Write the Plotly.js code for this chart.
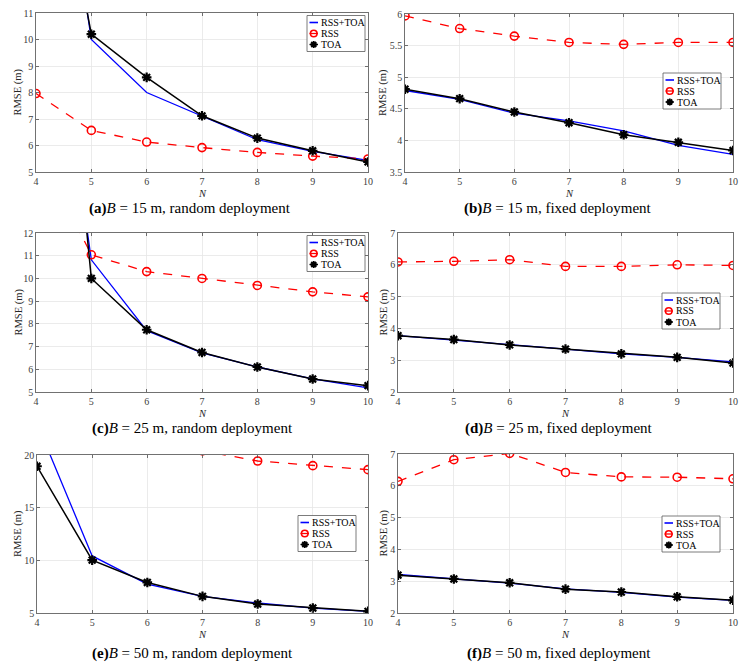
<!DOCTYPE html>
<html>
<head>
<meta charset="utf-8">
<script src="https://cdn.plot.ly/plotly-3.0.1.min.js"></script>
<style>html,body{margin:0;padding:0;background:#fff;}#chart{width:751px;height:668px;}</style>
</head>
<body>
<div id="chart"></div>
<script>
// ---- data ----
const N = [4, 5, 6, 7, 8, 9, 10];
const seriesNames = ["RSS+TOA", "RSS", "TOA"];

// (a) B = 15 m, random deployment
const a_rsstoa = [23.9, 10.0, 8.0, 7.12, 6.22, 5.78, 5.44];
const a_rss    = [7.96, 6.57, 6.13, 5.92, 5.74, 5.60, 5.49];
const a_toa    = [21.3, 10.2, 8.57, 7.12, 6.28, 5.80, 5.38];
// (b) B = 15 m, fixed deployment
const b_rsstoa = [4.79, 4.65, 4.43, 4.31, 4.15, 3.92, 3.78];
const b_rss    = [5.97, 5.77, 5.65, 5.55, 5.52, 5.55, 5.55];
const b_toa    = [4.81, 4.66, 4.45, 4.28, 4.09, 3.97, 3.84];
// (c) B = 25 m, random deployment
const c_rsstoa = [28.0, 10.82, 7.70, 6.72, 6.10, 5.58, 5.18];
const c_rss    = [15.9, 11.04, 10.3, 10.0, 9.69, 9.41, 9.19];
const c_toa    = [35.0, 10.0, 7.74, 6.74, 6.10, 5.57, 5.28];
// (d) B = 25 m, fixed deployment
const d_rsstoa = [3.77, 3.64, 3.49, 3.35, 3.20, 3.09, 2.95];
const d_rss    = [6.09, 6.11, 6.16, 5.95, 5.95, 6.00, 5.98];
const d_toa    = [3.77, 3.65, 3.48, 3.35, 3.20, 3.09, 2.91];
// (e) B = 50 m, random deployment
const e_rsstoa = [23.0, 10.42, 7.75, 6.58, 5.95, 5.47, 5.15];
const e_rss    = [30.0, 24.0, 21.5, 20.4, 19.43, 18.99, 18.61];
const e_toa    = [18.93, 10.02, 7.90, 6.58, 5.85, 5.47, 5.16];
// (f) B = 50 m, fixed deployment
const f_rsstoa = [3.21, 3.07, 2.94, 2.76, 2.65, 2.50, 2.40];
const f_rss    = [6.14, 6.82, 7.02, 6.42, 6.28, 6.27, 6.22];
const f_toa    = [3.19, 3.07, 2.95, 2.75, 2.66, 2.51, 2.40];

const xTicks = [4, 5, 6, 7, 8, 9, 10];
const captions = [
  "<b>(a)</b><i>B</i> = 15 m, random deployment",
  "<b>(b)</b><i>B</i> = 15 m, fixed deployment",
  "<b>(c)</b><i>B</i> = 25 m, random deployment",
  "<b>(d)</b><i>B</i> = 25 m, fixed deployment",
  "<b>(e)</b><i>B</i> = 50 m, random deployment",
  "<b>(f)</b><i>B</i> = 50 m, fixed deployment"
];
const yLabel = "RMSE (m)";
const xLabel = "<i>N</i>";
const yRanges = [[5, 11], [3.5, 6], [5, 12], [2, 7], [5, 20], [2, 7]];
const yDticks = [1, 0.5, 1, 1, 5, 1];

// ---- layout geometry (pixels) ----
const W = 751, H = 668;
const boxes = [
  {l: 36, r: 368, t: 13, b: 172},
  {l: 405, r: 733, t: 14, b: 172},
  {l: 36, r: 368, t: 233, b: 392},
  {l: 398, r: 733, t: 233, b: 392},
  {l: 37, r: 368, t: 455, b: 613},
  {l: 398, r: 733, t: 454, b: 613}
];
// legend box: left edge and first-row centre (pixels)
const legendPos = [
  {l: 307, row: 22.5}, {l: 663, row: 80}, {l: 307, row: 242.5},
  {l: 662, row: 300}, {l: 298, row: 522.5}, {l: 662, row: 523}
];
const captionPos = [
  {x: 190, y: 208}, {x: 558, y: 208}, {x: 192, y: 428},
  {x: 559, y: 428}, {x: 192, y: 653}, {x: 559, y: 653}
];

const allData = [
  [a_rsstoa, a_rss, a_toa], [b_rsstoa, b_rss, b_toa], [c_rsstoa, c_rss, c_toa],
  [d_rsstoa, d_rss, d_toa], [e_rsstoa, e_rss, e_toa], [f_rsstoa, f_rss, f_toa]
];

const colors = ["#0000ff", "#ff0000", "#000000"];
const serif = "Liberation Serif, Times New Roman, serif";
const traces = [];
const layout = {
  width: W, height: H,
  margin: {l: 0, r: 0, t: 0, b: 0},
  paper_bgcolor: "#ffffff", plot_bgcolor: "#ffffff",
  showlegend: false,
  annotations: [], shapes: [],
  font: {family: serif, color: "#000"}
};
const px = v => v / W, py = v => 1 - v / H;

allData.forEach((set, i) => {
  const k = i + 1;
  const xa = "x" + (k === 1 ? "" : k), ya = "y" + (k === 1 ? "" : k);
  const styles = [
    {mode: "lines", line: {color: colors[0], width: 1.3}},
    {mode: "lines+markers", line: {color: colors[1], width: 1.3, dash: "dash"},
     marker: {symbol: "circle-open", size: 8, color: colors[1], line: {width: 1.6, color: colors[1]}}},
    {mode: "lines+markers", line: {color: colors[2], width: 1.5},
     marker: {symbol: "asterisk-open", size: 8, color: colors[2], line: {width: 2.2, color: colors[2]}}}
  ];
  set.forEach((ys, j) => {
    traces.push(Object.assign({
      type: "scatter", x: N, y: ys, name: seriesNames[j],
      xaxis: xa, yaxis: ya, showlegend: false, cliponaxis: true
    }, styles[j]));
  });
  const bx = boxes[i];
  const axCommon = {
    showline: true, linecolor: "#4d4d4d", linewidth: 0.8, mirror: "ticks",
    showgrid: true, gridcolor: "#e6e6e6", gridwidth: 0.8,
    ticks: "inside", ticklen: 3, tickcolor: "#4d4d4d", tickwidth: 0.8,
    zeroline: false, fixedrange: true,
    tickfont: {family: serif, size: 10, color: "#404040"}
  };
  layout["xaxis" + (k === 1 ? "" : k)] = Object.assign({}, axCommon, {
    domain: [px(bx.l), px(bx.r)], anchor: ya, range: [4, 10],
    tickmode: "array", tickvals: xTicks, ticktext: xTicks.map(String)
  });
  layout["yaxis" + (k === 1 ? "" : k)] = Object.assign({}, axCommon, {
    domain: [py(bx.b), py(bx.t)], anchor: xa, range: yRanges[i],
    tick0: yRanges[i][0], dtick: yDticks[i]
  });

  // ---- legend (drawn as shapes + text) ----
  const lp = legendPos[i];
  const rowGap = 11;
  const L = lp.l, T = lp.row - 7, R = lp.l + 58, B = lp.row + 2 * rowGap + 7;
  layout.shapes.push({type: "rect", xref: "paper", yref: "paper",
    x0: px(L), x1: px(R), y0: py(B), y1: py(T),
    fillcolor: "#ffffff", line: {color: "#5a5a5a", width: 0.8}, layer: "above"});
  const sx0 = L + 2.5, sx1 = L + 11, cx = (sx0 + sx1) / 2;
  seriesNames.forEach((nm, j) => {
    const yy = lp.row + j * rowGap;
    layout.shapes.push({type: "line", xref: "paper", yref: "paper",
      x0: px(sx0), x1: px(sx1), y0: py(yy), y1: py(yy),
      line: {color: colors[j], width: j === 0 ? 1.6 : 1.3}, layer: "above"});
    if (j === 1) {
      const r = 3.3;
      layout.shapes.push({type: "circle", xref: "paper", yref: "paper",
        x0: px(cx - r), x1: px(cx + r), y0: py(yy + r), y1: py(yy - r),
        fillcolor: "rgba(255,255,255,0)", line: {color: colors[1], width: 1.6}, layer: "above"});
    }
    if (j === 2) {
      const r = 3.5, d = 2.5;
      const p = [
        [cx - r, yy, cx + r, yy], [cx, yy - r, cx, yy + r],
        [cx - d, yy - d, cx + d, yy + d], [cx - d, yy + d, cx + d, yy - d]
      ].map(s => `M${px(s[0])},${py(s[1])}L${px(s[2])},${py(s[3])}`).join("");
      layout.shapes.push({type: "path", xref: "paper", yref: "paper", path: p,
        line: {color: colors[2], width: 1.8}, layer: "above"});
    }
    layout.annotations.push({
      xref: "paper", yref: "paper", x: px(L + 12), y: py(yy), text: nm,
      showarrow: false, xanchor: "left", yanchor: "middle",
      font: {family: serif, size: 10, color: "#000"}
    });
  });

  // y label
  layout.annotations.push({
    xref: "paper", yref: "paper", x: px(i % 2 === 0 ? 18 : 383),
    y: py((bx.t + bx.b) / 2), text: yLabel, textangle: -90, showarrow: false,
    xanchor: "center", yanchor: "middle", font: {family: serif, size: 10.5, color: "#262626"}
  });
  // x label
  layout.annotations.push({
    xref: "paper", yref: "paper", x: px((bx.l + bx.r) / 2),
    y: py(bx.b + 21.5), text: xLabel, showarrow: false,
    xanchor: "center", yanchor: "middle", font: {family: serif, size: 10.5, color: "#262626"}
  });
  // caption
  const cp = captionPos[i];
  layout.annotations.push({
    xref: "paper", yref: "paper", x: px(cp.x), y: py(cp.y), text: captions[i],
    showarrow: false, xanchor: "center", yanchor: "middle",
    font: {family: serif, size: 15, color: "#000"}
  });
});

Plotly.newPlot("chart", traces, layout, {staticPlot: true, displayModeBar: false});
</script>
</body>
</html>
